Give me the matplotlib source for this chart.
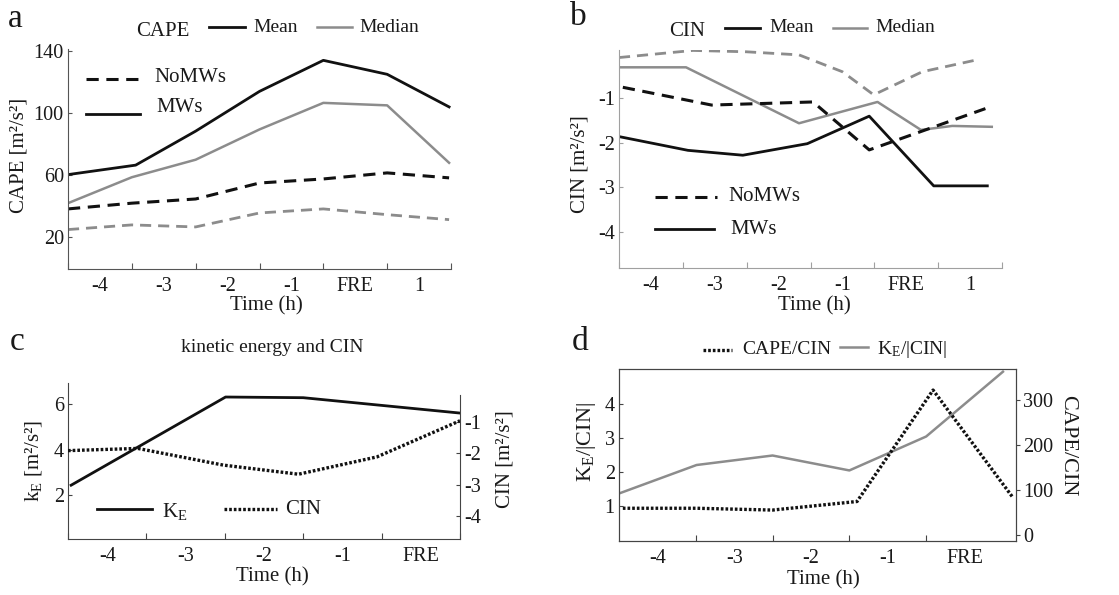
import matplotlib
matplotlib.use('Agg')
import matplotlib.pyplot as plt
from matplotlib.lines import Line2D

plt.rcParams['font.family'] = ['Liberation Serif', 'DejaVu Serif']
plt.rcParams['mathtext.fontset'] = 'custom'
plt.rcParams['mathtext.rm'] = 'Liberation Serif'
plt.rcParams['mathtext.it'] = 'Liberation Serif:italic'
plt.rcParams['axes.unicode_minus'] = False

W, H = 1119, 595
BLACK = '#111111'
GRAY = '#8c8c8c'
TXT = '#1a1a1a'
TICK_FS = 14.5
LAB_FS = 15

# ---- data ----
# panel a: CAPE
a_x_mean_mw = [0, 1.06, 2, 3, 4, 5, 5.97]
a_mean_mw = [60.4, 66.5, 88.4, 114, 134, 125, 104]
a_x = [0, 1, 2, 3, 4, 5, 5.97]
a_median_mw = [42, 58.7, 70, 89.5, 106.6, 105, 68]
a_mean_nomw = [38.3, 42, 44.7, 55, 57.6, 61.5, 58.3]
a_median_nomw = [25, 28, 26.7, 35.7, 38.3, 34.6, 31.4]

# panel b: CIN
b_x_mean_mw = [0, 1.08, 1.94, 2.95, 3.92, 4.93, 5.77]
b_mean_mw = [-1.86, -2.17, -2.28, -2.02, -1.40, -2.97, -2.97]
b_x_mean_nomw = [0.06, 1.45, 3.04, 3.92, 5.74]
b_mean_nomw = [-0.75, -1.15, -1.08, -2.16, -1.23]
b_x_median_mw = [0, 1.05, 2.82, 4.05, 4.73, 5.22, 5.84]
b_median_mw = [-0.30, -0.30, -1.56, -1.08, -1.71, -1.62, -1.64]
b_x_median_nomw = [0, 1.16, 1.99, 2.82, 3.5, 3.99, 4.75, 5.58]
b_median_nomw = [-0.08, 0.08, 0.05, -0.02, -0.40, -0.92, -0.40, -0.14]

# panel c: kinetic energy and CIN
c_x_ke = [0.04, 2.01, 3.0, 5.0]
c_ke = [2.43, 6.33, 6.30, 5.62]
c_x_cin = [0, 0.89, 1.98, 2.94, 3.94, 5.0]
c_cin = [-1.92, -1.85, -2.38, -2.67, -2.12, -0.97]

# panel d: ratios
d_x_ke = [0, 1.01, 2.0, 3.0, 4.0, 5.0]
d_ke_cin = [1.36, 2.2, 2.48, 2.04, 3.04, 4.95]
d_x_cape = [0.05, 1.01, 2.0, 3.1, 4.09, 5.12]
d_cape_cin = [60, 60, 56, 75, 322, 86]

labels6 = ['-4', '-3', '-2', '-1', 'FRE', '1']
labels5 = ['-4', '-3', '-2', '-1', 'FRE']


def box(l, t, r, b):
    return [l / W, 1 - b / H, (r - l) / W, (b - t) / H]


def fx(x):
    return x / W


def fy(y):
    return 1 - y / H


def key(fig, x0, x1, y, **kw):
    fig.add_artist(Line2D([fx(x0), fx(x1)], [fy(y), fy(y)], transform=fig.transFigure, **kw))


def txt(fig, x, y, s, **kw):
    kw.setdefault('fontsize', 14)
    kw.setdefault('color', TXT)
    kw.setdefault('va', 'center')
    kw.setdefault('ha', 'left')
    fig.text(fx(x), fy(y), s, **kw)


def style_x(ax, nbound, labels, spine_col, first=0):
    ax.set_xticks(list(range(first, nbound + 1)))
    ax.set_xticklabels([])
    ax.set_xticks([i + 0.5 for i in range(len(labels))], labels, minor=True)
    ax.tick_params(axis='x', which='major', direction='in', length=4, color=spine_col)
    ax.tick_params(axis='x', which='minor', length=0, pad=6, labelsize=TICK_FS, labelcolor=TXT)


def style_y(ax, col, direction='in', pad=3):
    ax.tick_params(axis='y', direction=direction, length=3, color=col,
                   labelsize=TICK_FS, labelcolor=TXT, pad=pad)


fig = plt.figure(figsize=(W / 100, H / 100), dpi=100)

solid_k = dict(color=BLACK, lw=2.0)
solid_g = dict(color=GRAY, lw=1.8)
dash_k = dict(color=BLACK, lw=2.2, dashes=(4, 2.5))
dash_g = dict(color=GRAY, lw=2.0, dashes=(4, 2.5))
dot_k = dict(color=BLACK, lw=2.4, dashes=(0.8, 0.6))

# ---- panel a ----
ax = fig.add_axes(box(68, 49, 451, 269))
ax.plot(a_x_mean_mw, a_mean_mw, **solid_k)
ax.plot(a_x, a_median_mw, **solid_g)
ax.plot(a_x, a_mean_nomw, **dash_k)
ax.plot(a_x, a_median_nomw, **dash_g)
ax.set_xlim(0, 6)
ax.set_ylim(-0.4, 141.3)
ax.set_yticks([20, 60, 100, 140])
for s in ['top', 'right']:
    ax.spines[s].set_visible(False)
for s in ['left', 'bottom']:
    ax.spines[s].set_color('#555555')
style_y(ax, '#555555')
style_x(ax, 6, labels6, '#555555')

txt(fig, 8, 19, 'a', fontsize=24)
txt(fig, 163, 31, 'CAPE', ha='center', fontsize=15)
key(fig, 209, 245, 27, **solid_k)
txt(fig, 253, 27, 'Mean')
key(fig, 317, 352, 27, **solid_g)
txt(fig, 359, 27, 'Median')
key(fig, 86, 142, 79, **dash_k)
txt(fig, 154, 77, 'NoMWs', fontsize=15)
key(fig, 86, 140, 114, **solid_k)
txt(fig, 156, 107, 'MWs', fontsize=15)
txt(fig, 19, 155, 'CAPE [m²/s²]', ha='center', rotation=90, fontsize=LAB_FS)
txt(fig, 266, 306, 'Time (h)', ha='center', fontsize=LAB_FS)

# ---- panel b ----
ax = fig.add_axes(box(619, 50, 1002, 268))
ax.plot(b_x_mean_mw, b_mean_mw, **solid_k)
ax.plot(b_x_median_mw, b_median_mw, **solid_g)
ax.plot(b_x_mean_nomw, b_mean_nomw, **dash_k)
ax.plot(b_x_median_nomw, b_median_nomw, **dash_g)
ax.set_xlim(0, 6)
ax.set_ylim(-4.82, 0.09)
ax.set_yticks([-4, -3, -2, -1])
for s in ['top', 'right']:
    ax.spines[s].set_visible(False)
for s in ['left', 'bottom']:
    ax.spines[s].set_color('#a0a0a0')
style_y(ax, '#a0a0a0')
style_x(ax, 6, labels6, '#a0a0a0')

txt(fig, 570, 17, 'b', fontsize=24)
txt(fig, 687, 32, 'CIN', ha='center', fontsize=15)
key(fig, 725, 760, 28, **solid_k)
txt(fig, 769, 28, 'Mean')
key(fig, 833, 867, 28, **solid_g)
txt(fig, 875, 28, 'Median')
key(fig, 655, 717, 197, **dash_k)
txt(fig, 728, 197, 'NoMWs', fontsize=15)
key(fig, 655, 714, 229, **solid_k)
txt(fig, 730, 229, 'MWs', fontsize=15)
txt(fig, 580, 164, 'CIN [m²/s²]', ha='center', rotation=90, fontsize=LAB_FS)
txt(fig, 814, 306, 'Time (h)', ha='center', fontsize=LAB_FS)

# ---- panel c ----
ax = fig.add_axes(box(68, 383, 460, 539))
ax.plot(c_x_ke, c_ke, **solid_k)
ax.set_xlim(0, 5)
ax.set_ylim(0.05, 6.95)
ax.set_yticks([2, 4, 6])
for s in ['top', 'right']:
    ax.spines[s].set_visible(False)
for s in ['left', 'bottom']:
    ax.spines[s].set_color('#444444')
style_y(ax, '#444444')
style_x(ax, 5, labels5, '#444444')
ax2 = ax.twinx()
ax2.plot(c_x_cin, c_cin, **dot_k)
ax2.set_xlim(0, 5)
ax2.set_ylim(-4.73, 0.23)
ax2.set_yticks([-4, -3, -2, -1])
ax2.spines['right'].set_bounds(-4.73, -0.15)
ax2.spines['right'].set_color('#444444')
for s in ['top', 'left', 'bottom']:
    ax2.spines[s].set_visible(False)
style_y(ax2, '#444444')

txt(fig, 10, 342, 'c', fontsize=24)
txt(fig, 272, 348, 'kinetic energy and CIN', ha='center', fontsize=14)
key(fig, 97, 152, 509, **solid_k)
txt(fig, 162, 511, r'K$_\mathrm{E}$', fontsize=15)
key(fig, 224, 277, 509, **dot_k)
txt(fig, 285, 510, 'CIN', fontsize=15)
txt(fig, 34, 461, r'k$_\mathrm{E}$ [m²/s²]', ha='center', rotation=90, fontsize=LAB_FS)
txt(fig, 505, 459, 'CIN [m²/s²]', ha='center', rotation=90, fontsize=LAB_FS)
txt(fig, 272, 577, 'Time (h)', ha='center', fontsize=LAB_FS)

# ---- panel d ----
ax = fig.add_axes(box(619, 369, 1016, 541))
ax.plot(d_x_ke, d_ke_cin, **solid_g)
ax.set_xlim(0, 5.17)
ax.set_ylim(-0.04, 5.03)
ax.set_yticks([1, 2, 3, 4])
for s in ax.spines.values():
    s.set_color('#444444')
style_y(ax, '#444444')
ax.set_xticks([1, 2, 3, 4])
ax.set_xticklabels([])
ax.set_xticks([i + 0.5 for i in range(5)], labels5, minor=True)
ax.tick_params(axis='x', which='major', direction='in', length=4, color='#444444')
ax.tick_params(axis='x', which='minor', length=0, pad=6, labelsize=TICK_FS, labelcolor=TXT)
ax2 = ax.twinx()
ax2.plot(d_x_cape, d_cape_cin, **dot_k)
ax2.set_xlim(0, 5.17)
ax2.set_ylim(-12.6, 368.7)
ax2.set_yticks([0, 100, 200, 300])
for s in ax2.spines.values():
    s.set_color('#444444')
style_y(ax2, '#444444', direction='out', pad=2)

txt(fig, 572, 342, 'd', fontsize=24)
key(fig, 703, 732, 350, **dot_k)
txt(fig, 742, 350, 'CAPE/CIN', fontsize=14)
key(fig, 840, 868, 347, **solid_g)
txt(fig, 877, 350, r'K$_\mathrm{E}$/|CIN|', fontsize=14)
txt(fig, 586, 442, r'K$_\mathrm{E}$/|CIN|', ha='center', rotation=90, fontsize=16)
txt(fig, 1068, 446, 'CAPE/CIN', ha='center', rotation=-90, fontsize=16)
txt(fig, 823, 580, 'Time (h)', ha='center', fontsize=LAB_FS)

fig.savefig('out.png', dpi=100)
